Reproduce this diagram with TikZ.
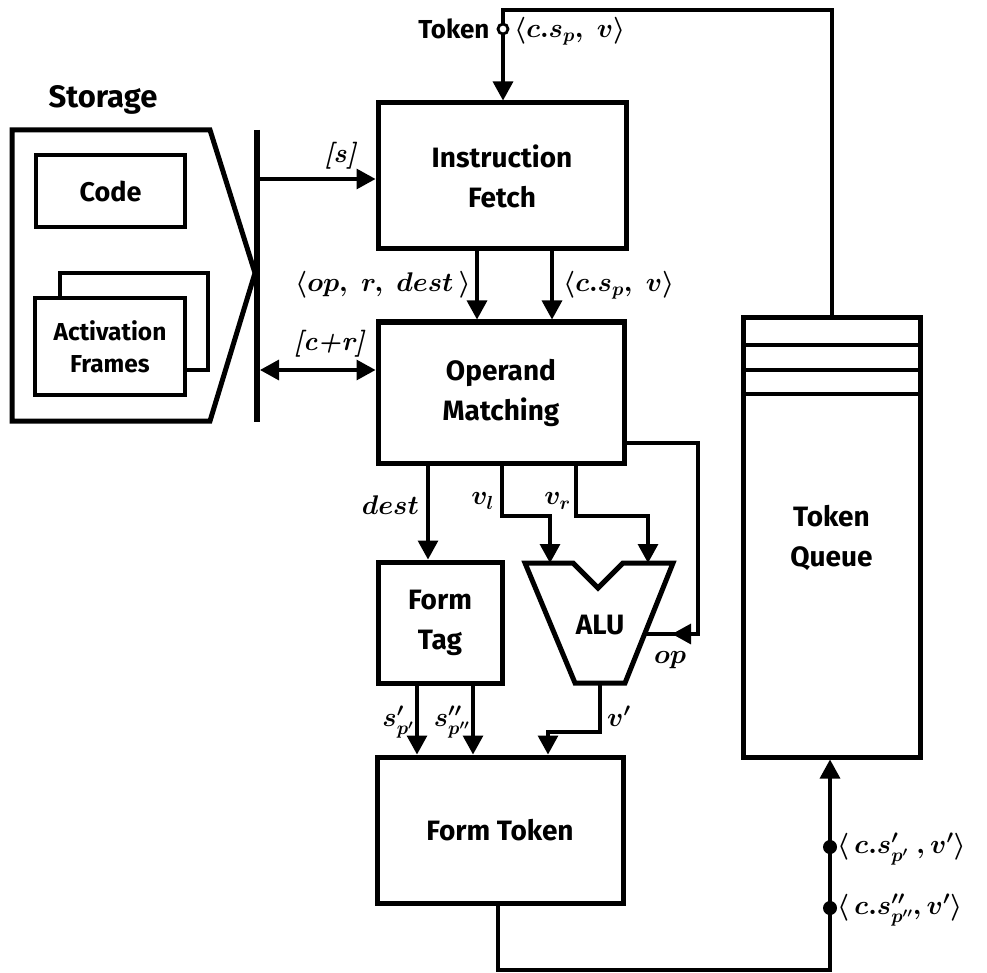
\documentclass[tikz,border=0pt]{standalone}
\usepackage{fix-cm}
\usepackage{fontspec}
\setsansfont{Fira Sans}
\usetikzlibrary{arrows.meta}
\begin{document}
\begin{tikzpicture}[x=1pt,y=-1pt,
 box/.style={draw, line width=5pt, inner sep=0pt},
 sbox/.style={draw, line width=3.6pt, inner sep=0pt, fill=white},
 conn/.style={line width=3.2pt},
 tip/.style={-{Triangle[length=19pt,width=20pt]}},
 arr/.style={conn,tip},
 lbl/.style={font=\sffamily\bfseries\fontsize{28}{40}\selectfont, align=center},
 slbl/.style={font=\sffamily\bfseries\fontsize{26}{30}\selectfont},
 mlbl/.style={font=\boldmath\fontsize{27}{32}\selectfont, inner sep=1pt},
 dot/.style={circle, fill, inner sep=0pt, minimum size=14pt}]
\useasboundingbox (0,0) rectangle (987,973);

% main boxes
\node[box, minimum width=248pt, minimum height=146pt, lbl] (fetch) at (502,176) {Instruction\\Fetch};
\node[box, minimum width=246pt, minimum height=141pt, lbl] (opm) at (501,392.5) {Operand\\Matching};
\node[box, minimum width=124pt, minimum height=121pt, lbl] (ftag) at (440,622.5) {Form\\Tag};
\node[box, minimum width=246pt, minimum height=146pt, lbl] (ftok) at (500,830) {Form Token};
\node[box, minimum width=177pt, minimum height=439pt, lbl] (queue) at (831.5,537.5) {Token\\Queue};
\draw[line width=4pt] (743,345) -- (920,345) (743,370) -- (920,370) (743,394) -- (920,394);

% ALU
\coordinate (alu1) at (525,563);
\coordinate (alu2) at (573,563);
\coordinate (alu3) at (598,588);
\coordinate (alu4) at (623,563);
\coordinate (alu5) at (673,563);
\coordinate (alu6) at (625,683);
\coordinate (alu7) at (575,683);
\draw[line width=5pt, line join=miter] (alu1) -- (alu2) -- (alu3) -- (alu4) -- (alu5) -- (alu6) -- (alu7) -- cycle;
\node[lbl] (alu) at (600,625) {ALU};

% storage
\draw[line width=5pt] (12,130) -- (210,130) -- (255,273) -- (210,421) -- (12,421) -- cycle;
\node[lbl, font=\sffamily\bfseries\fontsize{31}{36}\selectfont] (stlbl) at (103,100) {Storage};
\node[sbox, minimum width=149pt, minimum height=72pt, lbl, font=\sffamily\bfseries\fontsize{27}{36}\selectfont] (code) at (110.5,191) {Code};
\draw[line width=3.6pt] (60,273) rectangle (208,370);
\node[sbox, minimum width=150pt, minimum height=97pt, lbl, font=\sffamily\bfseries\fontsize{24.5}{32}\selectfont] (frames) at (110,346.5) {Activation\\Frames};
\coordinate (bartop) at (257,130);
\coordinate (barbot) at (257,422);
\draw[line width=6pt] (bartop) -- (barbot);

% token input
\coordinate (ttop) at (503,10);
\coordinate (qtop) at (832,318);
\draw[arr] (qtop) |- (ttop) -- (ttop |- fetch.north);
\node[circle, draw, fill=white, line width=2.8pt, inner sep=0pt, minimum size=10pt] (tok) at (503,29) {};
\node[slbl, anchor=east] (toklbl) at (493,29) {Token};
\node[mlbl, anchor=west] (toklbl2) at (513,31) {$\langle c.s_p,\ v\rangle$};

% storage connections
\coordinate (s1) at (260,179);
\coordinate (s2) at (260,370);
\draw[arr] (s1) -- (s1 -| fetch.west);
\draw[conn, {Triangle[length=19pt,width=20pt]}-{Triangle[length=19pt,width=20pt]}] (s2) -- (s2 -| opm.west);
\node[mlbl] (slab) at (340,156) {\bfseries\itshape [s]};
\node[mlbl] (crlab) at (329,344) {\bfseries\itshape [c+r]};

% fetch -> operand matching
\coordinate (f1) at (477,0);
\coordinate (f2) at (552,0);
\draw[arr] (f1 |- fetch.south) -- (f1 |- opm.north);
\draw[arr] (f2 |- fetch.south) -- (f2 |- opm.north);
\node[mlbl, anchor=east] (l1) at (472,285) {$\langle op,\ r,\ dest\,\rangle$};
\node[mlbl, anchor=west] (l2) at (562,285) {$\langle c.s_p,\ v\rangle$};

% operand matching outputs
\coordinate (d1) at (428,0);
\draw[arr] (d1 |- opm.south) -- (d1 |- ftag.north);
\node[mlbl, anchor=east] (dl) at (420,505) {$dest$};
\coordinate (vl) at (502,516);
\draw[arr] (vl |- opm.south) -- (vl) -- (550,516) -- (alu1 -| 550,0);
\coordinate (vr) at (576,516);
\draw[arr] (vr |- opm.south) -- (vr) -- (648,516) -- (alu5 -| 648,0);
\node[mlbl, anchor=east] (vll) at (495,501) {$v_l$};
\node[mlbl, anchor=east] (vrl) at (572,501) {$v_r$};

% op line
\coordinate (op1) at (698,443);
\coordinate (op2) at (698,634);
\coordinate (op3) at (645,634);
\draw[conn] (op1 -| opm.east) -- (op1) -- (op2) -- (op3);
\draw[arr] (op2) -- (672,634);
\node[mlbl] (opl) at (670,660) {$op$};

% ALU output
\coordinate (v1) at (600,732);
\coordinate (v2) at (548,732);
\draw[arr] (600,683) -- (v1) -- (v2) -- (v2 |- ftok.north);
\node[mlbl, anchor=west] (vpl) at (606,716) {$v'$};

% form tag outputs
\coordinate (t1) at (417,0);
\coordinate (t2) at (473,0);
\draw[arr] (t1 |- ftag.south) -- (t1 |- ftok.north);
\draw[arr] (t2 |- ftag.south) -- (t2 |- ftok.north);
\node[mlbl, anchor=east] (tl1) at (415,722) {$s'_{p'}$};
\node[mlbl, anchor=east] (tl2) at (471,722) {$s''_{p''}$};

% output to queue
\coordinate (o1) at (498,970);
\coordinate (o2) at (830,970);
\draw[arr] (o1 |- ftok.south) -- (o1) -- (o2) -- (o2 |- queue.south);
\node[dot] (dt1) at (830,847) {};
\node[dot] (dt2) at (830,908) {};
\node[mlbl, anchor=west] (ol1) at (836,849) {$\langle\, c.s'_{p'}\ ,v'\rangle$};
\node[mlbl, anchor=west] (ol2) at (836,910) {$\langle\, c.s''_{p''},v'\rangle$};
\end{tikzpicture}
\end{document}
